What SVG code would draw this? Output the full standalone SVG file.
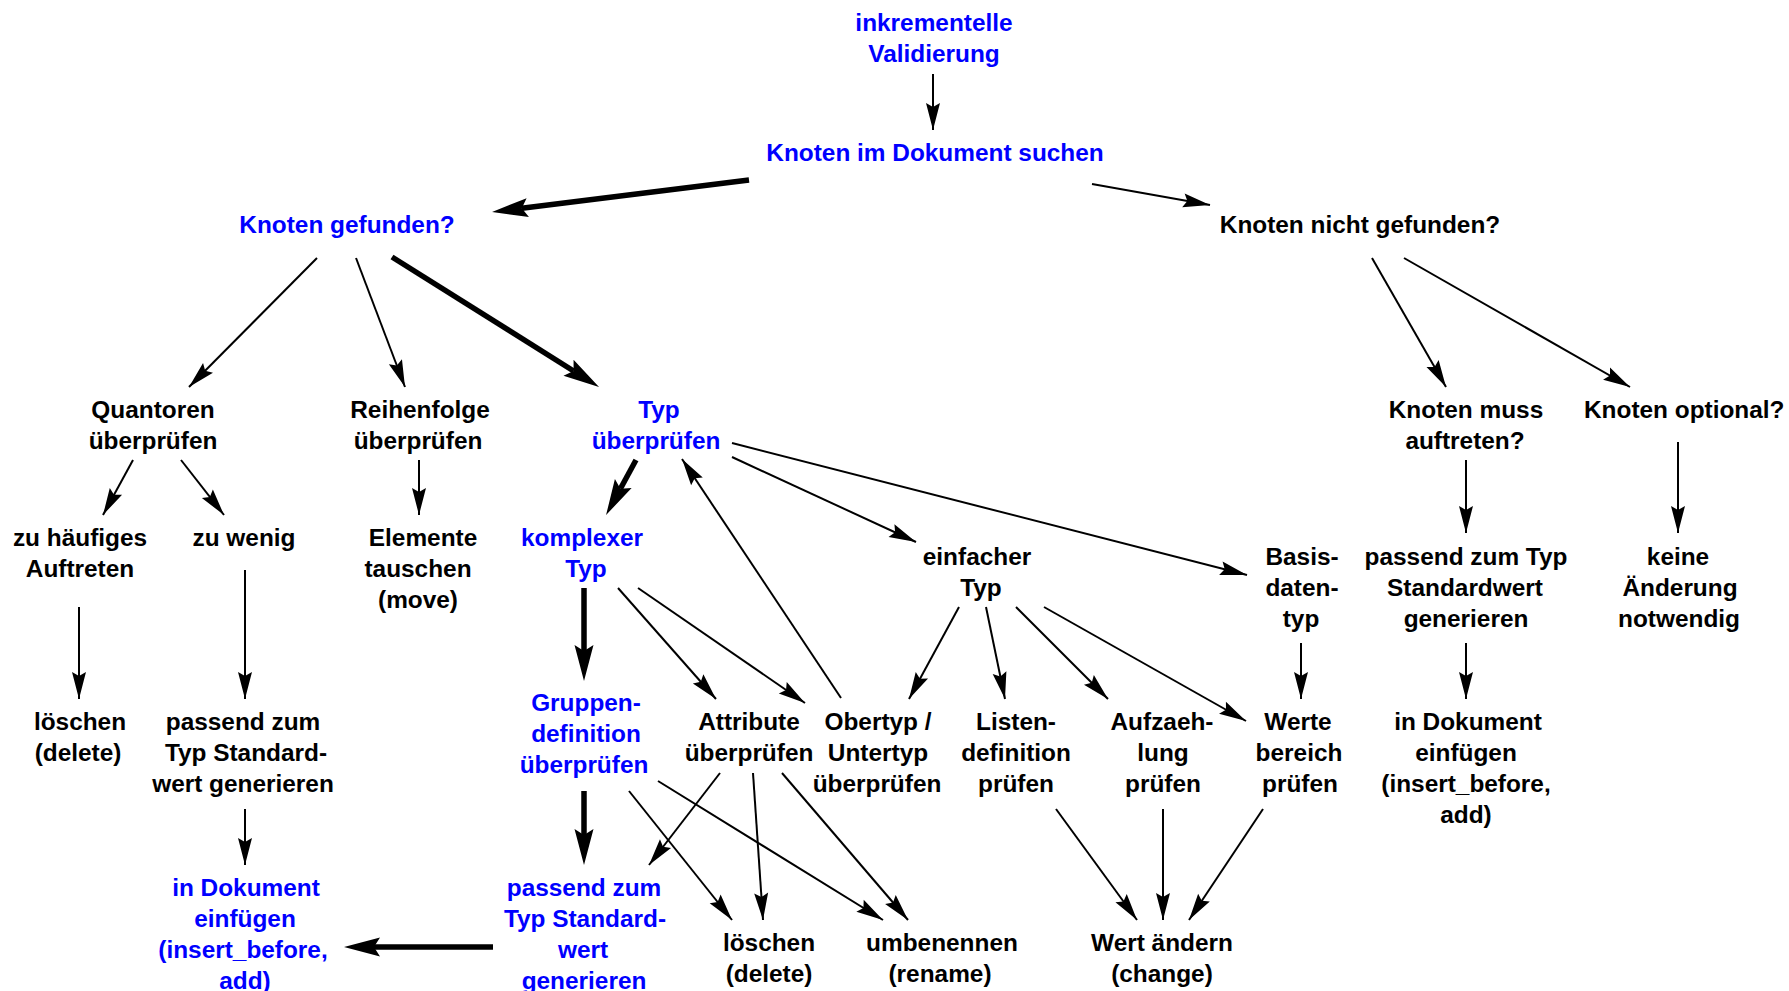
<svg xmlns="http://www.w3.org/2000/svg" width="1789" height="991" viewBox="0 0 1789 991">
  <style>
    text { font-family: "Liberation Sans", Arial, Helvetica, sans-serif; font-weight: bold; font-size: 24.4px; text-anchor: middle; }
    .blue text { fill: #0000ff; }
    .black text { fill: #000000; }
    .thin { stroke: #000; stroke-width: 2; fill: none; marker-end: url(#head); }
    .thick { stroke: #000; stroke-width: 5.5; fill: none; marker-end: url(#headBold); }
  </style>
  <defs>
    <!-- notched arrowheads; thin one has its tip on the line end, bold one sits on its notch -->
    <marker id="head" markerUnits="userSpaceOnUse" markerWidth="28" markerHeight="15" refX="27" refY="7" orient="auto" overflow="visible">
      <path d="M0,0 L27,7 L0,14 L4,7 Z" fill="#000"/>
    </marker>
    <marker id="headBold" markerUnits="userSpaceOnUse" markerWidth="37" markerHeight="20" refX="6" refY="9.5" orient="auto" overflow="visible">
      <path d="M0,0 L36,9.5 L0,19 L6,9.5 Z" fill="#000"/>
    </marker>
  </defs>
  <rect width="1789" height="991" fill="#ffffff"/>

  <g id="connectors">
    <line class="thin" x1="933" y1="74" x2="933" y2="130"/>
    <line class="thick" x1="749" y1="180" x2="521.8" y2="208.3"/>
    <line class="thin" x1="1092" y1="184" x2="1210" y2="205"/>
    <line class="thin" x1="317" y1="258" x2="189" y2="387"/>
    <line class="thin" x1="356" y1="258" x2="405" y2="387"/>
    <line class="thick" x1="392" y1="257" x2="573.6" y2="371"/>
    <line class="thin" x1="1372" y1="258" x2="1446" y2="387"/>
    <line class="thin" x1="1404" y1="258" x2="1630" y2="387"/>
    <line class="thin" x1="133" y1="460" x2="103" y2="515"/>
    <line class="thin" x1="181" y1="460" x2="224" y2="515"/>
    <line class="thin" x1="419" y1="460" x2="419" y2="515"/>
    <line class="thick" x1="636" y1="460" x2="620.4" y2="488.7"/>
    <line class="thin" x1="841" y1="698" x2="682" y2="459"/>
    <line class="thin" x1="732" y1="457" x2="916" y2="542"/>
    <line class="thin" x1="732" y1="443" x2="1247" y2="575"/>
    <line class="thin" x1="1466" y1="460" x2="1466" y2="533"/>
    <line class="thin" x1="1678" y1="442" x2="1678" y2="533"/>
    <line class="thin" x1="79" y1="607" x2="79" y2="699"/>
    <line class="thin" x1="245" y1="570" x2="245" y2="699"/>
    <line class="thick" x1="584" y1="588" x2="584" y2="651"/>
    <line class="thin" x1="618" y1="588" x2="716" y2="699"/>
    <line class="thin" x1="638" y1="588" x2="805" y2="703"/>
    <line class="thin" x1="959" y1="607" x2="909" y2="699"/>
    <line class="thin" x1="986" y1="607" x2="1005" y2="699"/>
    <line class="thin" x1="1016" y1="607" x2="1108" y2="699"/>
    <line class="thin" x1="1044" y1="607" x2="1246" y2="721"/>
    <line class="thin" x1="1301" y1="643" x2="1301" y2="699"/>
    <line class="thin" x1="1466" y1="643" x2="1466" y2="699"/>
    <line class="thin" x1="245" y1="809" x2="245" y2="865"/>
    <line class="thick" x1="584" y1="791" x2="584" y2="835"/>
    <line class="thin" x1="629" y1="791" x2="732" y2="920"/>
    <line class="thin" x1="658" y1="781" x2="883" y2="920"/>
    <line class="thin" x1="720" y1="773" x2="649" y2="865"/>
    <line class="thin" x1="753" y1="773" x2="763" y2="920"/>
    <line class="thin" x1="782" y1="773" x2="908" y2="920"/>
    <line class="thin" x1="1056" y1="809" x2="1137" y2="920"/>
    <line class="thin" x1="1163" y1="809" x2="1163" y2="920"/>
    <line class="thin" x1="1263" y1="809" x2="1189" y2="920"/>
    <line class="thick" x1="493" y1="947" x2="374" y2="947"/>
  </g>

  <g id="inkrementelle-validierung" class="blue">
    <text x="934" y="31">inkrementelle</text>
    <text x="934" y="62">Validierung</text>
  </g>
  <g id="knoten-suchen" class="blue">
    <text x="935" y="161">Knoten im Dokument suchen</text>
  </g>
  <g id="knoten-gefunden" class="blue">
    <text x="347" y="233">Knoten gefunden?</text>
  </g>
  <g id="knoten-nicht-gefunden" class="black">
    <text x="1360" y="233">Knoten nicht gefunden?</text>
  </g>

  <g id="quantoren" class="black">
    <text x="153" y="418">Quantoren</text>
    <text x="153" y="449">überprüfen</text>
  </g>
  <g id="reihenfolge" class="black">
    <text x="420" y="418">Reihenfolge</text>
    <text x="418" y="449">überprüfen</text>
  </g>
  <g id="typ" class="blue">
    <text x="659" y="418">Typ</text>
    <text x="656" y="449">überprüfen</text>
  </g>
  <g id="knoten-muss" class="black">
    <text x="1466" y="418">Knoten muss</text>
    <text x="1465" y="449">auftreten?</text>
  </g>
  <g id="knoten-optional" class="black">
    <text x="1584" y="418" style="text-anchor:start">Knoten optional?</text>
  </g>

  <g id="zu-haeufig" class="black">
    <text x="80" y="546">zu häufiges</text>
    <text x="80" y="577">Auftreten</text>
  </g>
  <g id="zu-wenig" class="black">
    <text x="244" y="546">zu wenig</text>
  </g>
  <g id="elemente-tauschen" class="black">
    <text x="423" y="546">Elemente</text>
    <text x="418" y="577">tauschen</text>
    <text x="418" y="608">(move)</text>
  </g>
  <g id="komplexer-typ" class="blue">
    <text x="582" y="546">komplexer</text>
    <text x="586" y="577">Typ</text>
  </g>
  <g id="einfacher-typ" class="black">
    <text x="977" y="565">einfacher</text>
    <text x="981" y="596">Typ</text>
  </g>
  <g id="basisdatentyp" class="black">
    <text x="1302" y="565">Basis-</text>
    <text x="1302" y="596">daten-</text>
    <text x="1301" y="627">typ</text>
  </g>
  <g id="standardwert-rechts" class="black">
    <text x="1466" y="565">passend zum Typ</text>
    <text x="1465" y="596">Standardwert</text>
    <text x="1466" y="627">generieren</text>
  </g>
  <g id="keine-aenderung" class="black">
    <text x="1678" y="565">keine</text>
    <text x="1680" y="596">Änderung</text>
    <text x="1679" y="627">notwendig</text>
  </g>

  <g id="loeschen-links" class="black">
    <text x="80" y="730">löschen</text>
    <text x="78" y="761">(delete)</text>
  </g>
  <g id="standardwert-links" class="black">
    <text x="243" y="730">passend zum</text>
    <text x="246" y="761">Typ Standard-</text>
    <text x="243" y="792">wert generieren</text>
  </g>
  <g id="gruppendefinition" class="blue">
    <text x="586" y="711">Gruppen-</text>
    <text x="586" y="742">definition</text>
    <text x="584" y="773">überprüfen</text>
  </g>
  <g id="attribute" class="black">
    <text x="749" y="730">Attribute</text>
    <text x="749" y="761">überprüfen</text>
  </g>
  <g id="obertyp-untertyp" class="black">
    <text x="878" y="730">Obertyp /</text>
    <text x="878" y="761">Untertyp</text>
    <text x="877" y="792">überprüfen</text>
  </g>
  <g id="listendefinition" class="black">
    <text x="1016" y="730">Listen-</text>
    <text x="1016" y="761">definition</text>
    <text x="1016" y="792">prüfen</text>
  </g>
  <g id="aufzaehlung" class="black">
    <text x="1162" y="730">Aufzaeh-</text>
    <text x="1163" y="761">lung</text>
    <text x="1163" y="792">prüfen</text>
  </g>
  <g id="wertebereich" class="black">
    <text x="1298" y="730">Werte</text>
    <text x="1299" y="761">bereich</text>
    <text x="1300" y="792">prüfen</text>
  </g>
  <g id="einfuegen-rechts" class="black">
    <text x="1468" y="730">in Dokument</text>
    <text x="1466" y="761">einfügen</text>
    <text x="1466" y="792">(insert_before,</text>
    <text x="1466" y="823">add)</text>
  </g>

  <g id="einfuegen-links" class="blue">
    <text x="246" y="896">in Dokument</text>
    <text x="245" y="927">einfügen</text>
    <text x="243" y="958">(insert_before,</text>
    <text x="245" y="989">add)</text>
  </g>
  <g id="standardwert-mitte" class="blue">
    <text x="584" y="896">passend zum</text>
    <text x="585" y="927">Typ Standard-</text>
    <text x="583" y="958">wert</text>
    <text x="584" y="989">generieren</text>
  </g>
  <g id="loeschen-mitte" class="black">
    <text x="769" y="951">löschen</text>
    <text x="769" y="982">(delete)</text>
  </g>
  <g id="umbenennen" class="black">
    <text x="942" y="951">umbenennen</text>
    <text x="940" y="982">(rename)</text>
  </g>
  <g id="wert-aendern" class="black">
    <text x="1162" y="951">Wert ändern</text>
    <text x="1162" y="982">(change)</text>
  </g>
</svg>
